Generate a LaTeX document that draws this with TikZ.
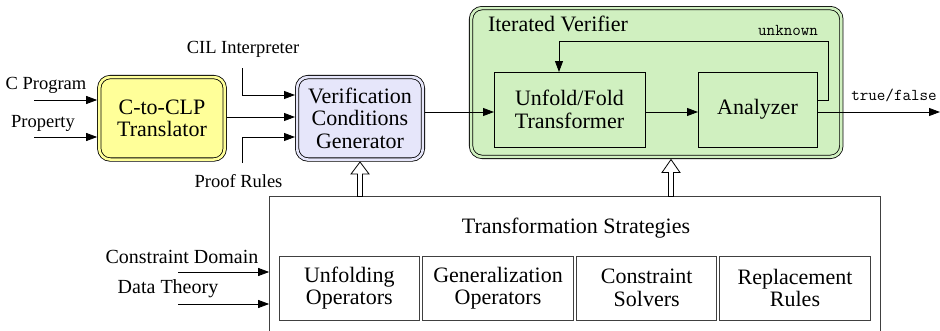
\documentclass[tikz,border=0pt]{standalone}
\usepackage{fontspec}
\setmainfont{Liberation Serif}
\usetikzlibrary{arrows.meta,calc}
\definecolor{yel}{RGB}{255,255,153}
\definecolor{lav}{RGB}{230,230,250}
\definecolor{grn}{RGB}{208,240,192}
\begin{document}
\begin{tikzpicture}[x=1pt,y=-1pt,
  every node/.style={inner sep=0pt,outer sep=0pt},
  lbl/.style={font=\fontsize{18.5}{20}\selectfont},
  lblb/.style={font=\fontsize{20}{22}\selectfont},
  mono/.style={font=\ttfamily\fontsize{16.6}{18}\selectfont},
  boxtxt/.style={font=\fontsize{22}{22.5}\selectfont,align=center},
  dblbox/.style={boxtxt,draw,line width=0.8pt,double distance=2.6pt,rounded corners=11pt,outer sep=2.1pt},
  plainbox/.style={boxtxt,draw,line width=0.8pt},
  subbox/.style={boxtxt,draw=black!75,line width=0.9pt,minimum height=64pt},
  arr/.style={-{Triangle[length=11pt,width=8pt]},line width=0.8pt},
  hollow/.style={draw,fill=white,line width=0.8pt},
]
\useasboundingbox (0,0) rectangle (940,330);
\clip (0,0) rectangle (940,330);
% main boxes
\node[dblbox,fill=yel,double=yel,minimum width=125.5pt,minimum height=82.5pt] (tr) at (162,118.3) {C-to-CLP\\Translator};
\node[dblbox,fill=lav,double=lav,minimum width=125.8pt,minimum height=82.5pt] (vcg) at (360,118.3) {Verification\\Conditions\\Generator};
\node[dblbox,fill=grn,double=grn,minimum width=370.3pt,minimum height=148.8pt] (iv) at (656.2,82.5) {};
\node[boxtxt,anchor=west] (ivt) at (488,24) {Iterated Verifier};
\node[plainbox,minimum width=151pt,minimum height=75pt] (uf) at (569.5,109.5) {Unfold/Fold\\Transformer};
\node[plainbox,minimum width=119pt,minimum height=75pt] (an) at (757.5,109.5) {Analyzer};
% transformation strategies
\node[draw=black!75,line width=0.9pt,minimum width=611.7pt,minimum height=144pt] (ts) at (575,268) {};
\node[boxtxt] (tst) at (576,228) {Transformation Strategies};
\node[subbox,minimum width=140pt] (s1) at (349.3,288) {Unfolding\\Operators};
\node[subbox,minimum width=150.6pt] (s2) at (498,288) {Generalization\\Operators};
\node[subbox,minimum width=140pt] (s3) at (646.7,288) {Constraint\\Solvers};
\node[subbox,minimum width=151.4pt] (s4) at (795,288) {Replacement\\Rules};
% labels
\node[lbl] (lcp) at (46,85) {C Program};
\node[lbl] (lpr) at (43,123) {Property};
\node[lbl] (lcil) at (243,49) {CIL Interpreter};
\node[lbl] (lpf) at (238.5,181) {Proof Rules};
\node[lblb] (lcd) at (182,257) {Constraint Domain};
\node[lblb] (ldt) at (168,289) {Data Theory};
\node[mono,anchor=east] (lunk) at (818,30) {unknown};
\node[mono] (ltf) at (894,95) {true/false};
% coordinates
\coordinate (icp) at (34,100);
\coordinate (ipr) at (34,137);
\coordinate (icil) at (242,68);
\coordinate (ipf) at (242,163);
\coordinate (icd) at (178,272);
\coordinate (idt) at (178,304);
\coordinate (out) at (940,112);
\coordinate (loopr) at (828,41);
\coordinate (h1) at (360,162);
\coordinate (h2) at (671,159.5);
% connectors
\draw[arr] (icp) -- (tr.west |- icp);
\draw[arr] (ipr) -- (tr.west |- ipr);
\draw[arr] (icil) |- (vcg.west |- 0,95);
\draw[arr] (tr.east |- 0,117) -- (vcg.west |- 0,117);
\draw[arr] (ipf) |- (vcg.west |- 0,137);
\draw[arr] (vcg.east |- 0,112) -- (uf.west |- 0,112);
\draw[arr] (uf.east |- 0,112) -- (an.west |- 0,112);
\draw[arr] (an.east |- 0,112) -- (out);
\draw[arr] (an.east |- 0,100) -| (loopr) -| (uf.north -| 559,0);
\draw[arr] (icd) -- (ts.west |- icd);
\draw[arr] (idt) -- (ts.west |- idt);
% hollow arrows
\draw[hollow] (h1) -- ++(9,12) -- ++(-6.5,0) -- ++(0,22.5) -- ++(-5,0) -- ++(0,-22.5) -- ++(-6.5,0) -- cycle;
\draw[hollow] (h2) -- ++(9,13) -- ++(-6.5,0) -- ++(0,24) -- ++(-5,0) -- ++(0,-24) -- ++(-6.5,0) -- cycle;
\end{tikzpicture}
\end{document}
